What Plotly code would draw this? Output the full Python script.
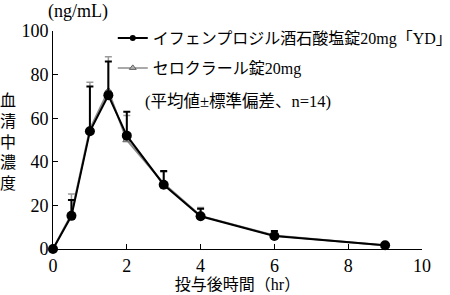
import plotly.graph_objects as go

time_hr = [0, 0.5, 1, 1.5, 2, 3, 4, 6, 9]
yd_mean = [0, 15.2, 54, 70.5, 52, 29.5, 15, 6, 1.7]
yd_sd = [0, 7.3, 20.5, 15.5, 11, 6.3, 3.5, 2.2, 0.7]
ref_mean = [0, 16, 55, 72.5, 50, 30, 15.2, 6.2, 1.6]
ref_sd = [0, 9.2, 21.5, 15.7, 11.2, 5.3, 3.8, 2.0, 0.6]

name_yd = "イフェンプロジル酒石酸塩錠20mg「YD」"
name_ref = "セロクラール錠20mg"
note = "(平均値±標準偏差、n=14)"
x_ticks = [0, 2, 4, 6, 8, 10]
y_ticks = [0, 20, 40, 60, 80, 100]

SERIF = "'Liberation Serif', 'DejaVu Serif', serif"
MIX = "'Liberation Serif', 'Noto Sans CJK JP', serif"
JP = "'Noto Sans CJK JP', sans-serif"

YD_LINE = dict(color="black", width=2)
REF_LINE = dict(color="#8c8c8c", width=2)

fig = go.Figure()
fig.add_trace(go.Scatter(
    x=time_hr, y=ref_mean, name=name_ref, mode="lines+markers",
    line=REF_LINE,
    marker=dict(symbol="triangle-up", size=7, color="#b0b0b0",
                line=dict(color="#606060", width=1)),
    error_y=dict(type="data", symmetric=False, array=ref_sd,
                 arrayminus=[0]*len(ref_sd), color="#9a9a9a", thickness=1.5, width=3.5),
    cliponaxis=False, showlegend=False,
))
fig.add_trace(go.Scatter(
    x=time_hr, y=yd_mean, name=name_yd, mode="lines+markers",
    line=YD_LINE,
    marker=dict(symbol="circle", size=10, color="black"),
    error_y=dict(type="data", symmetric=False, array=yd_sd,
                 arrayminus=[0]*len(yd_sd), color="black", thickness=2, width=3.5),
    cliponaxis=False, showlegend=False,
))
# legend entries (small symbols as in the reference key)
fig.add_trace(go.Scatter(
    x=[None], y=[None], name=name_yd, mode="lines+markers",
    line=YD_LINE, marker=dict(symbol="circle", size=6, color="black"),
    legendgroup="a", legendrank=1,
))
fig.add_trace(go.Scatter(
    x=[None], y=[None], name=name_ref, mode="lines+markers",
    line=dict(color="#8c8c8c", width=1.5),
    marker=dict(symbol="triangle-up", size=6, color="#b0b0b0",
                line=dict(color="#606060", width=1)),
    legendgroup="b", legendrank=2,
))

fig.update_layout(
    width=450, height=295,
    margin=dict(l=53, r=28, t=31, b=46, autoexpand=False),
    paper_bgcolor="white", plot_bgcolor="white",
    font=dict(family=MIX, color="black", size=16),
    showlegend=True,
    legend=dict(x=0.162, y=1.045, xanchor="left", yanchor="top",
                font=dict(family=MIX, size=16),
                bgcolor="rgba(0,0,0,0)", tracegroupgap=6, itemwidth=30,
                traceorder="grouped"),
    xaxis=dict(range=[0, 10], tickvals=x_ticks, showline=True, linecolor="black",
               linewidth=1, ticks="inside", ticklen=5, tickcolor="black",
               showgrid=False, zeroline=False,
               tickfont=dict(family=SERIF, size=18),
               title=dict(text="投与後時間（hr）", standoff=0,
                          font=dict(family=MIX, size=16))),
    yaxis=dict(range=[0, 100], tickvals=y_ticks, showline=True, linecolor="black",
               linewidth=1, ticks="inside", ticklen=5, tickcolor="black",
               showgrid=False, zeroline=False,
               tickfont=dict(family=SERIF, size=18)),
    annotations=[
        dict(text="(ng/mL)", xref="paper", yref="paper", x=-0.018, y=1.03,
             xanchor="left", yanchor="bottom", showarrow=False,
             font=dict(family=SERIF, size=18)),
        dict(text="血<br>清<br>中<br>濃<br>度", xref="paper", yref="paper",
             x=-0.15, y=0.5, xanchor="left", yanchor="middle", showarrow=False,
             font=dict(family=JP, size=16)),
        dict(text=note, xref="paper", yref="paper", x=0.245, y=0.675,
             xanchor="left", yanchor="middle", showarrow=False,
             font=dict(family=MIX, size=16.5)),
    ],
)

fig.write_html("out.html")
